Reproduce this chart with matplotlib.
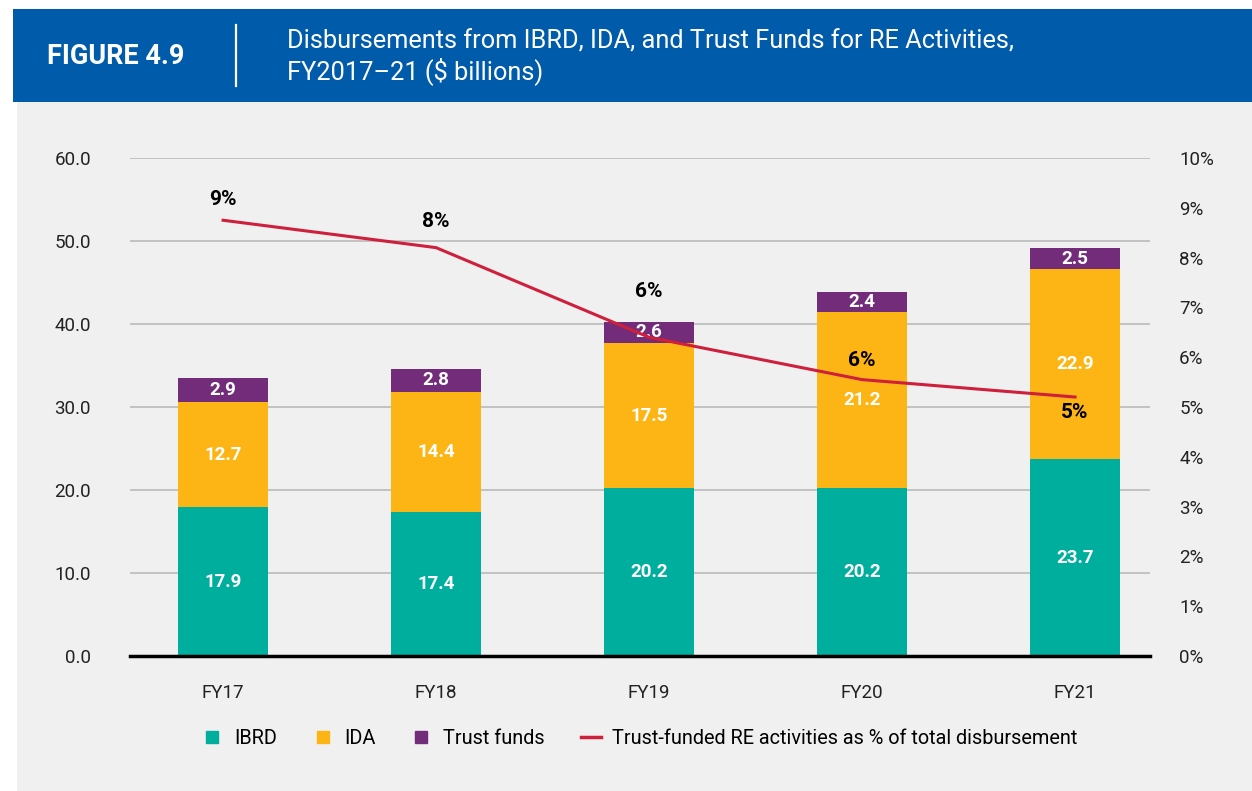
import matplotlib
matplotlib.use("Agg")
import numpy as np
import matplotlib.pyplot as plt
from matplotlib.patches import Rectangle
from matplotlib.lines import Line2D

plt.rcParams['font.family'] = ['Roboto', 'DejaVu Sans']

years = ["FY17", "FY18", "FY19", "FY20", "FY21"]
ibrd = [17.9, 17.4, 20.2, 20.2, 23.7]
ida = [12.7, 14.4, 17.5, 21.2, 22.9]
trust = [2.9, 2.8, 2.6, 2.4, 2.5]
share_pct = [8.75, 8.2, 6.4, 5.55, 5.2]
share_labels = ["9%", "8%", "6%", "6%", "5%"]
label_offsets = [15, 19, 33, 14, -11]  # points, above/below the line

C_IBRD = "#00AE9E"
C_IDA = "#FDB515"
C_TF = "#732C7A"
C_LINE = "#CE1F3D"
C_BLUE = "#005BAA"
C_BG = "#F0F0F0"

W, H = 1252, 791
fig = plt.figure(figsize=(W / 100, H / 100), dpi=100)
fig.patch.set_facecolor("white")

# page background and header band
fig.add_artist(Rectangle((17 / W, 0), 1, 1 - 102 / H, transform=fig.transFigure,
                         facecolor=C_BG, edgecolor="none", zorder=0))
fig.add_artist(Rectangle((13 / W, 1 - 102 / H), 1, 93 / H, transform=fig.transFigure,
                         facecolor=C_BLUE, edgecolor="none", zorder=0))
fig.add_artist(Line2D([236 / W, 236 / W], [1 - 25 / H, 1 - 86 / H], transform=fig.transFigure,
                      color="white", lw=1.6))
fig.text(47 / W, 1 - 57 / H, "FIGURE 4.9", color="white", fontsize=19.5,
         fontweight="bold", va="center", ha="left")
fig.text(287 / W, 1 - 57 / H,
         "Disbursements from IBRD, IDA, and Trust Funds for RE Activities,\nFY2017\u201321 ($ billions)",
         color="white", fontsize=18.3, va="center", ha="left", linespacing=1.15)

ax = fig.add_axes([130 / W, 1 - 656 / H, 1020 / W, 498 / H])
ax.set_facecolor("none")
x = np.arange(len(years))
bw = 0.423

ibrd_a = np.array(ibrd)
ida_a = np.array(ida)
tf_a = np.array(trust)
ax.bar(x, ibrd_a, bw, color=C_IBRD, label="IBRD", zorder=2)
ax.bar(x, ida_a, bw, bottom=ibrd_a, color=C_IDA, label="IDA", zorder=2)
ax.bar(x, tf_a, bw, bottom=ibrd_a + ida_a, color=C_TF, label="Trust funds", zorder=2)

for i in range(len(years)):
    ax.text(x[i], ibrd_a[i] / 2, f"{ibrd[i]:.1f}", ha="center", va="center",
            color="white", fontsize=13.5, fontweight="bold", zorder=3)
    ax.text(x[i], ibrd_a[i] + ida_a[i] / 2, f"{ida[i]:.1f}", ha="center", va="center",
            color="white", fontsize=13.5, fontweight="bold", zorder=3)
    ax.text(x[i], ibrd_a[i] + ida_a[i] + tf_a[i] / 2, f"{trust[i]:.1f}", ha="center",
            va="center", color="white", fontsize=13.5, fontweight="bold", zorder=3)

ax.set_xlim(-0.437, 4.352)
ax.set_ylim(0, 60)
ax.set_yticks(np.arange(0, 61, 10))
ax.set_yticklabels([f"{v:.1f}" for v in np.arange(0, 61, 10)])
ax.set_xticks(x)
ax.set_xticklabels(years)
ax.grid(axis="y", color="#BBBBBB", lw=1.2, zorder=1)
ax.set_axisbelow(True)
for s in ["top", "right", "left"]:
    ax.spines[s].set_visible(False)
ax.spines["bottom"].set_color("black")
ax.spines["bottom"].set_linewidth(2.5)
ax.spines["bottom"].set_zorder(4)
ax.tick_params(axis="y", length=0, pad=28, labelsize=13.5, labelcolor="#222222")
ax.tick_params(axis="x", length=0, pad=20, labelsize=13.5, labelcolor="#222222")

ax2 = ax.twinx()
ax2.set_ylim(0, 10)
ax2.set_yticks(np.arange(0, 11, 1))
ax2.set_yticklabels([f"{v}%" for v in range(0, 11)])
for s in ax2.spines.values():
    s.set_visible(False)
ax2.tick_params(axis="y", length=0, pad=21, labelsize=13.5, labelcolor="#222222")
ax2.plot(x, share_pct, color=C_LINE, lw=2.2, zorder=5,
         label="Trust-funded RE activities as % of total disbursement")
for i in range(len(years)):
    ax2.annotate(share_labels[i], (x[i], share_pct[i]), xytext=(0, label_offsets[i]),
                 textcoords="offset points", ha="center", va="center",
                 fontsize=15, fontweight="bold", color="black", zorder=6)

handles = [
    Line2D([], [], marker="s", ls="none", color=C_IBRD, markersize=9),
    Line2D([], [], marker="s", ls="none", color=C_IDA, markersize=9),
    Line2D([], [], marker="s", ls="none", color=C_TF, markersize=9),
    Line2D([], [], color=C_LINE, lw=2.5),
]
fig.legend(handles, ["IBRD", "IDA", "Trust funds",
                     "Trust-funded RE activities as % of total disbursement"],
           loc="center", bbox_to_anchor=(640 / W, 1 - 738 / H), ncol=4, frameon=False,
           fontsize=14.3, handlelength=1.0, handletextpad=0.6, columnspacing=1.8)

fig.savefig("out.png", dpi=100, facecolor=fig.get_facecolor())
